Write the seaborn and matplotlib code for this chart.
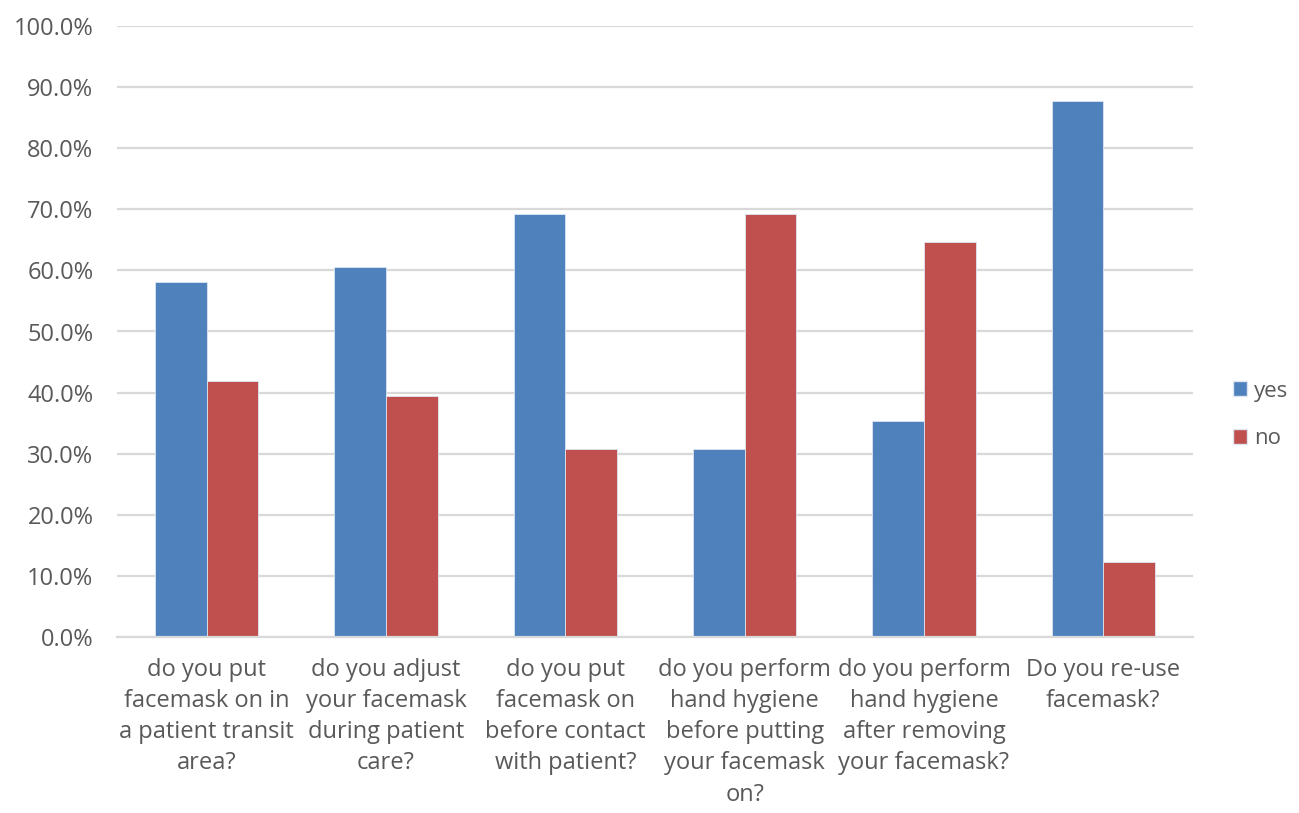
import matplotlib
matplotlib.use("Agg")
import matplotlib.pyplot as plt
import seaborn as sns
import pandas as pd
from matplotlib.patches import Patch
from matplotlib.ticker import FixedLocator, FuncFormatter

questions = [
    "do you put\nfacemask on in\na patient transit\narea?",
    "do you adjust\nyour facemask\nduring patient\ncare?",
    "do you put\nfacemask on\nbefore contact\nwith patient?",
    "do you perform\nhand hygiene\nbefore putting\nyour facemask\non?",
    "do you perform\nhand hygiene\nafter removing\nyour facemask?",
    "Do you re-use\nfacemask?",
]
yes_pct = [58.1, 60.5, 69.3, 30.7, 35.4, 87.8]
no_pct = [41.9, 39.5, 30.7, 69.3, 64.6, 12.2]
answers = ["yes", "no"]
colors = {"yes": "#4F81BD", "no": "#C0504D"}

df = pd.DataFrame({
    "question": questions * 2,
    "answer": ["yes"] * len(questions) + ["no"] * len(questions),
    "pct": yes_pct + no_pct,
})

sns.set_theme(style="white")
plt.rcParams["font.family"] = ["Open Sans", "DejaVu Sans"]
text_color = "#595959"
grid_color = "#D9D9D9"
fs = 17

fig = plt.figure(figsize=(12.99, 8.13), dpi=100)
ax = fig.add_axes([117 / 1299, 1 - 637 / 813, (1193 - 117) / 1299, (637 - 26) / 813])

sns.barplot(data=df, x="question", y="pct", hue="answer", hue_order=answers,
            order=questions, palette=colors, saturation=1, width=0.575, gap=0,
            edgecolor="#DDE6F2", linewidth=0.6, ax=ax, legend=False, zorder=3)

ax.set_ylim(0, 100)
ax.set_xlim(-0.5, len(questions) - 0.5)
ax.yaxis.set_major_locator(FixedLocator(range(0, 101, 10)))
ax.yaxis.set_major_formatter(FuncFormatter(lambda v, p: f"{v:.1f}%"))
ax.grid(axis="y", color=grid_color, linewidth=1.6, zorder=0)
ax.grid(axis="x", visible=False)

for side in ["top", "right", "left"]:
    ax.spines[side].set_visible(False)
ax.spines["bottom"].set_color(grid_color)
ax.spines["bottom"].set_linewidth(1.6)
ax.spines["bottom"].set_zorder(4)

ax.set_xlabel("")
ax.set_ylabel("")
ax.tick_params(axis="y", length=0, labelsize=fs, labelcolor=text_color, pad=17)
ax.tick_params(axis="x", which="major", length=0, labelsize=fs, labelcolor=text_color, pad=15)
ax.set_xticks(range(len(questions)))
ax.set_xticklabels(questions, linespacing=1.4, ha="center")
ax.set_xticks([i - 0.5 for i in range(len(questions) + 1)], minor=True)
ax.tick_params(axis="x", which="minor", length=8, width=1.6, color=grid_color, direction="out")

handles = [Patch(facecolor=colors[a], edgecolor="#DDE6F2", label=a) for a in answers]
fig.legend(handles=handles, loc="center left", bbox_to_anchor=(1233 / 1299, 1 - 415 / 813),
           frameon=False, fontsize=16, labelcolor=text_color, handlelength=0.65,
           handleheight=0.65, handletextpad=0.3, labelspacing=1.2, borderpad=0,
           borderaxespad=0)

fig.savefig("out.png", dpi=100, facecolor="white")
